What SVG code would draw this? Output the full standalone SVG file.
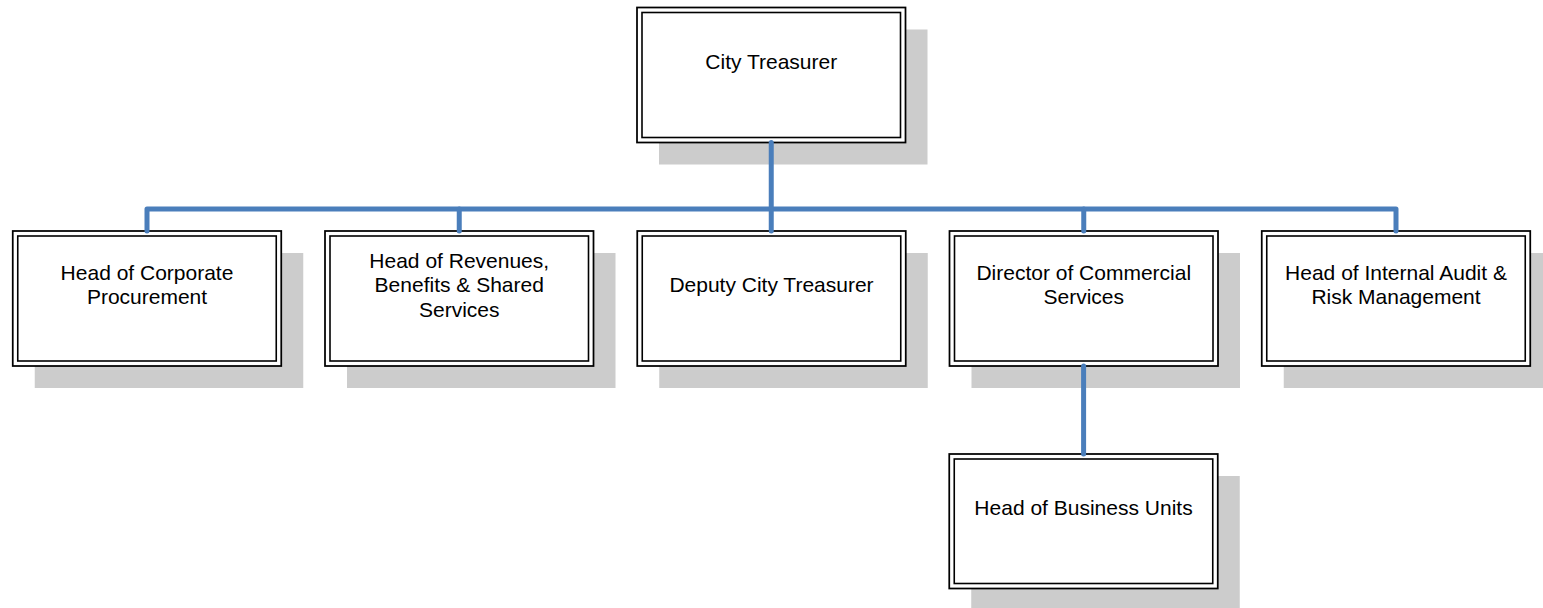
<svg xmlns="http://www.w3.org/2000/svg" width="1543" height="608" viewBox="0 0 1543 608">
<style>
.shadow{fill:#cccccc;stroke:none}
.outer{fill:#ffffff;stroke:#000000;stroke-width:1.75}
.inner{fill:none;stroke:#000000;stroke-width:1.6}
.label{font-family:"Liberation Sans",Arial,sans-serif;font-size:21px;fill:#000000;text-anchor:middle}
.conn{fill:none;stroke:#4a7ebb;stroke-width:5;stroke-linecap:round;stroke-linejoin:round}
</style>
<rect width="1543" height="608" fill="#ffffff"/>
<g id="node-city-treasurer">
<rect class="shadow" x="659" y="29.5" width="268.5" height="135"/>
<rect class="outer" x="637" y="7.5" width="268.5" height="135"/>
<rect class="inner" x="642" y="12.5" width="258.5" height="125"/>
<text class="label" x="771.25" y="68.5">City Treasurer</text>
</g>
<g id="node-corporate-procurement">
<rect class="shadow" x="34.75" y="253" width="268.5" height="135"/>
<rect class="outer" x="12.75" y="231" width="268.5" height="135"/>
<rect class="inner" x="17.75" y="236" width="258.5" height="125"/>
<text class="label" x="147" y="279.5">Head of Corporate</text>
<text class="label" x="147" y="304">Procurement</text>
</g>
<g id="node-revenues">
<rect class="shadow" x="347" y="253" width="268.5" height="135"/>
<rect class="outer" x="325" y="231" width="268.5" height="135"/>
<rect class="inner" x="330" y="236" width="258.5" height="125"/>
<text class="label" x="459.25" y="267.5">Head of Revenues,</text>
<text class="label" x="459.25" y="292">Benefits &amp; Shared</text>
<text class="label" x="459.25" y="316.5">Services</text>
</g>
<g id="node-deputy">
<rect class="shadow" x="659.25" y="253" width="268.5" height="135"/>
<rect class="outer" x="637.25" y="231" width="268.5" height="135"/>
<rect class="inner" x="642.25" y="236" width="258.5" height="125"/>
<text class="label" x="771.5" y="292">Deputy City Treasurer</text>
</g>
<g id="node-commercial">
<rect class="shadow" x="971.5" y="253" width="268.5" height="135"/>
<rect class="outer" x="949.5" y="231" width="268.5" height="135"/>
<rect class="inner" x="954.5" y="236" width="258.5" height="125"/>
<text class="label" x="1083.75" y="279.5">Director of Commercial</text>
<text class="label" x="1083.75" y="304">Services</text>
</g>
<g id="node-audit">
<rect class="shadow" x="1283.75" y="253" width="268.5" height="135"/>
<rect class="outer" x="1261.75" y="231" width="268.5" height="135"/>
<rect class="inner" x="1266.75" y="236" width="258.5" height="125"/>
<text class="label" x="1396" y="279.5">Head of Internal Audit &amp;</text>
<text class="label" x="1396" y="304">Risk Management</text>
</g>
<g id="node-business-units">
<rect class="shadow" x="971.25" y="476" width="268.5" height="134.5"/>
<rect class="outer" x="949.25" y="454" width="268.5" height="134.5"/>
<rect class="inner" x="954.25" y="459" width="258.5" height="124.5"/>
<text class="label" x="1083.5" y="514.5">Head of Business Units</text>
</g>
<g id="connectors">
<path class="conn" d="M147,231 V209 H1396 V231"/>
<path class="conn" d="M771.25,142.5 V231"/>
<path class="conn" d="M459.25,209 V231"/>
<path class="conn" d="M1083.75,209 V231"/>
<path class="conn" d="M1083.6,366 V454"/>
</g>
</svg>
